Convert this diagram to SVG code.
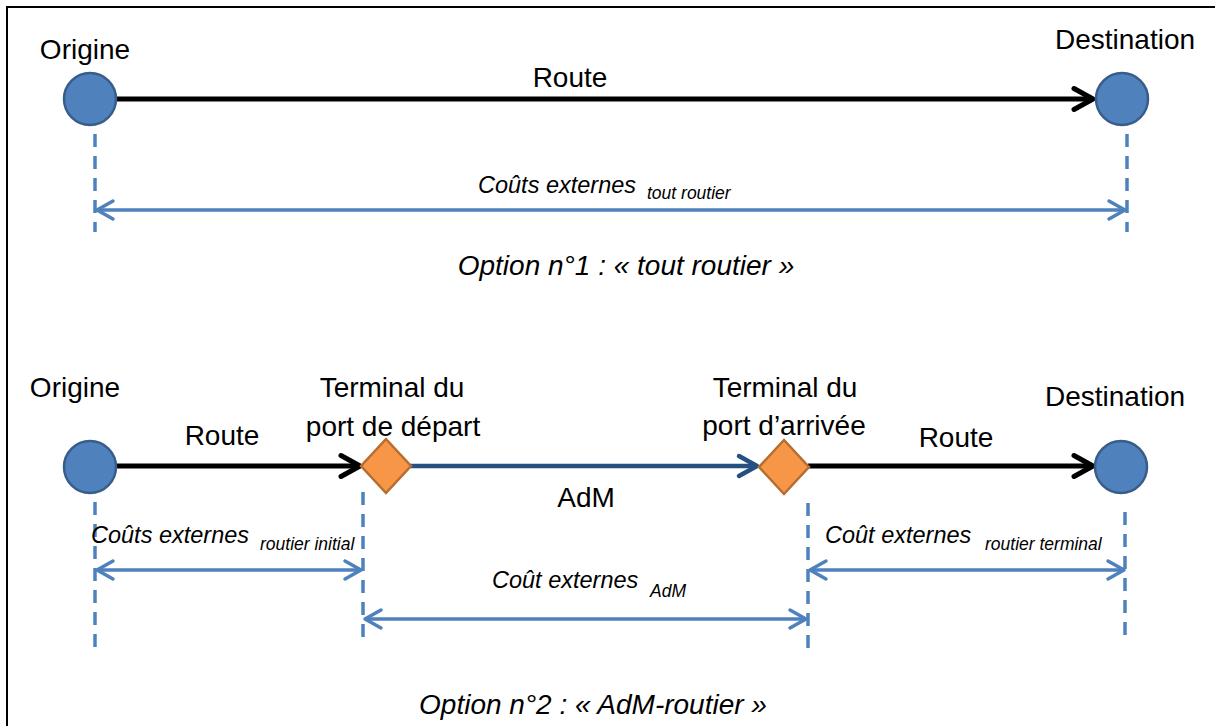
<svg xmlns="http://www.w3.org/2000/svg" width="1215" height="726" viewBox="0 0 1215 726">
<style>
.lbl{font-family:"Liberation Sans",Arial,sans-serif;font-size:28px;fill:#000;text-anchor:middle}
.cost{font-family:"Liberation Sans",Arial,sans-serif;font-size:23.5px;font-style:italic;fill:#000}
.sub{font-size:17.5px}
.opt{font-family:"Liberation Sans",Arial,sans-serif;font-size:28px;font-style:italic;fill:#000;text-anchor:middle}
.node{fill:#4F81BD;stroke:#385D8A;stroke-width:2.5}
.term{fill:#F79646;stroke:#B66D31;stroke-width:2.5}
.road{stroke:#000;stroke-width:5;fill:none}
.sea{stroke:#264F82;stroke-width:4.5;fill:none}
.dim{stroke:#4F81BD;stroke-width:3.5;fill:none}
.dash{stroke:#4F81BD;stroke-width:3.5;stroke-dasharray:13 9;fill:none}
</style>
<defs>
<marker id="ab" markerUnits="userSpaceOnUse" viewBox="-22 -13 26 26" markerWidth="26" markerHeight="26" refX="0" refY="0" orient="auto-start-reverse" overflow="visible">
<path d="M-19,-10.5 L0,0 L-19,10.5" fill="none" stroke="#000" stroke-width="5" stroke-linecap="round" stroke-linejoin="round"/>
</marker>
<marker id="an" markerUnits="userSpaceOnUse" viewBox="-22 -13 26 26" markerWidth="26" markerHeight="26" refX="0" refY="0" orient="auto-start-reverse" overflow="visible">
<path d="M-18,-10 L0,0 L-18,10" fill="none" stroke="#264F82" stroke-width="4.5" stroke-linecap="round" stroke-linejoin="round"/>
</marker>
<marker id="aq" markerUnits="userSpaceOnUse" viewBox="-20 -11 22 22" markerWidth="22" markerHeight="22" refX="0" refY="0" orient="auto-start-reverse" overflow="visible">
<path d="M-16,-9 L0,0 L-16,9" fill="none" stroke="#4F81BD" stroke-width="3.5" stroke-linecap="round" stroke-linejoin="round"/>
</marker>
</defs>
<rect x="0" y="0" width="1215" height="726" fill="#fff"/>
<g id="frame" stroke="#000" stroke-width="2" fill="none">
<path d="M7,726 L7,7 L1215,7"/>
</g>
<g id="connectors">
<line class="road" x1="117" y1="99" x2="1093" y2="99" marker-end="url(#ab)"/>
<line class="dash" x1="95" y1="134" x2="95" y2="232"/>
<line class="dash" x1="1127" y1="134" x2="1127" y2="232"/>
<line class="dim" x1="97" y1="210" x2="1125" y2="210" marker-start="url(#aq)" marker-end="url(#aq)"/>
<line class="road" x1="117" y1="466" x2="360" y2="466" marker-end="url(#ab)"/>
<line class="sea" x1="410" y1="466" x2="757" y2="466" marker-end="url(#an)"/>
<line class="road" x1="808" y1="466" x2="1093" y2="466" marker-end="url(#ab)"/>
<line class="dash" x1="95" y1="502" x2="95" y2="650"/>
<line class="dash" x1="363" y1="492" x2="363" y2="645"/>
<line class="dash" x1="808" y1="503" x2="808" y2="650"/>
<line class="dash" x1="1125" y1="512" x2="1125" y2="638"/>
<line class="dim" x1="97" y1="570" x2="361" y2="570" marker-start="url(#aq)" marker-end="url(#aq)"/>
<line class="dim" x1="365" y1="619" x2="806" y2="619" marker-start="url(#aq)" marker-end="url(#aq)"/>
<line class="dim" x1="810" y1="570" x2="1124" y2="570" marker-start="url(#aq)" marker-end="url(#aq)"/>
</g>
<g id="origine1"><circle class="node" cx="90" cy="99" r="26"/><text class="lbl" x="85" y="59">Origine</text></g>
<g id="destination1"><circle class="node" cx="1122" cy="99" r="26"/><text class="lbl" x="1125" y="49">Destination</text></g>
<g id="route1-label"><text class="lbl" x="570" y="87">Route</text></g>
<g id="cost1"><text class="cost" x="478" y="193">Coûts externes</text><text class="cost sub" x="647" y="199">tout routier</text></g>
<g id="option1"><text class="opt" x="626" y="275">Option n°1 : « tout routier »</text></g>
<g id="origine2"><circle class="node" cx="90" cy="467" r="26"/><text class="lbl" x="75" y="397">Origine</text></g>
<g id="route2-label"><text class="lbl" x="222" y="445">Route</text></g>
<g id="terminal-depart"><path class="term" d="M386,439 L411,466 L386,493 L361,466 Z"/><text class="lbl" x="392" y="397">Terminal du</text><text class="lbl" x="393" y="436">port de départ</text></g>
<g id="adm-label"><text class="lbl" x="586" y="507">AdM</text></g>
<g id="terminal-arrivee"><path class="term" d="M784,440 L809,467 L784,494 L759,467 Z"/><text class="lbl" x="785" y="397">Terminal du</text><text class="lbl" x="784" y="435">port d’arrivée</text></g>
<g id="route3-label"><text class="lbl" x="956" y="447">Route</text></g>
<g id="destination2"><circle class="node" cx="1121" cy="467" r="26"/><text class="lbl" x="1115" y="406">Destination</text></g>
<g id="cost2"><text class="cost" x="91" y="543">Coûts externes</text><text class="cost sub" x="260" y="550">routier initial</text></g>
<g id="cost3"><text class="cost" x="492" y="588">Coût externes</text><text class="cost sub" x="650" y="597">AdM</text></g>
<g id="cost4"><text class="cost" x="825" y="543">Coût externes</text><text class="cost sub" x="985" y="550">routier terminal</text></g>
<g id="option2"><text class="opt" x="593" y="714">Option n°2 : « AdM-routier »</text></g>
</svg>
